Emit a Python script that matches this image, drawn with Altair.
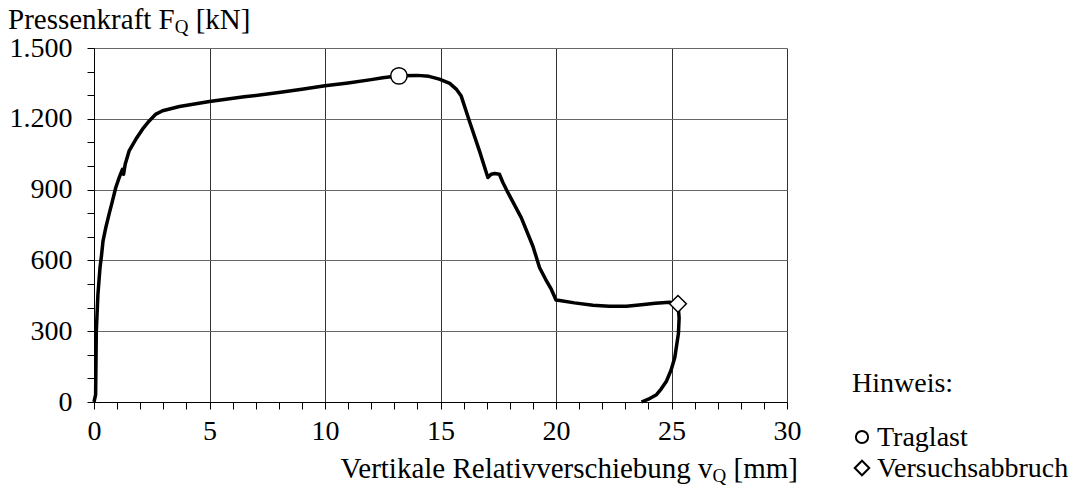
import altair as alt
import pandas as pd

# ---- data ----
x_mm = [0.0, 0.07, 0.10, 0.17, 0.26, 0.33, 0.39, 0.51, 0.65, 0.80, 0.94, 1.09, 1.23, 1.28, 1.35,
        1.52, 1.81, 2.10, 2.39, 2.68, 2.97, 3.70, 5.0, 6.5, 8.0, 9.0, 10.0, 11.0, 12.0, 12.5,
        13.2, 14.0, 14.5, 14.95, 15.4, 15.68, 15.89, 16.25, 16.7, 17.05, 17.19, 17.35, 17.55,
        17.7, 17.92, 18.5, 19.0, 19.29, 19.55, 19.80, 20.0, 20.16, 20.8, 21.6, 22.3, 23.05,
        23.7, 24.3, 24.92, 25.28, 25.33, 25.30, 25.14, 24.98, 24.78, 24.55, 24.35, 24.0, 23.7]
f_kn = [0, 31, 300, 456, 569, 625, 682, 739, 795, 852, 908, 951, 986, 965, 1007,
        1064, 1113, 1156, 1191, 1220, 1234, 1252, 1273, 1293, 1311, 1325, 1340, 1352, 1366, 1374,
        1382, 1384, 1380, 1368, 1350, 1326, 1298, 1191, 1060, 951, 965, 968, 965,
        930, 887, 780, 660, 569, 520, 477, 432, 430, 420, 410, 406, 406,
        412, 418, 423, 416, 357, 290, 187, 135, 88, 55, 31, 12, 0]

marker_x = [13.2, 25.28]
marker_y = [1382, 416]
marker_shape = ["circle", "diamond"]
legend_title = "Hinweis:"
legend_labels = ["Traglast", "Versuchsabbruch"]

FONT = "Liberation Serif"

curve = pd.DataFrame({"x": x_mm, "y": f_kn, "i": list(range(len(x_mm)))})

x_scale = alt.Scale(domain=[0, 30], nice=False, zero=False)
y_scale = alt.Scale(domain=[0, 1500], nice=False)

x_axis = alt.Axis(
    values=list(range(0, 31)),
    labelExpr="datum.value % 5 == 0 ? datum.label : ''",
    gridOpacity=alt.condition("datum.value % 5 == 0", alt.value(1), alt.value(0)),
    title=None, tickSize=7, labelPadding=8, labelFontSize=28, labelFont=FONT,
    labelColor="black", domainColor="black", tickColor="black", gridColor="#333333",
    labelFlush=False, labelOverlap=False, tickCount=31,
)
y_axis = alt.Axis(
    values=list(range(0, 1501, 100)),
    labelExpr="datum.value % 300 == 0 ? replace(format(datum.value, ','), ',', '.') : ''",
    gridOpacity=alt.condition("datum.value % 300 == 0", alt.value(1), alt.value(0)),
    title=None, tickSize=7, labelPadding=15, labelFontSize=28, labelFont=FONT,
    labelColor="black", domainColor="black", tickColor="black", gridColor="#666666",
    labelFlush=False, labelOverlap=False, tickCount=16,
)

line = alt.Chart(curve).mark_line(color="black", strokeWidth=3.5, strokeJoin="round").encode(
    x=alt.X("x:Q", scale=x_scale, axis=x_axis),
    y=alt.Y("y:Q", scale=y_scale, axis=y_axis),
    order="i:Q",
)


def marker(i, size):
    df = pd.DataFrame({"x": [marker_x[i]], "y": [marker_y[i]]})
    return alt.Chart(df).mark_point(
        shape=marker_shape[i], filled=True, fill="white", stroke="black",
        strokeWidth=1.5, size=size, opacity=1
    ).encode(
        x=alt.X("x:Q", scale=x_scale, axis=x_axis),
        y=alt.Y("y:Q", scale=y_scale, axis=y_axis),
    )


m1 = marker(0, 270)
m2 = marker(1, 280)


def txt(s, x, y, size, align="left"):
    return alt.Chart(pd.DataFrame({"t": [s]})).mark_text(
        font=FONT, fontSize=size, align=align, baseline="alphabetic", color="black"
    ).encode(text="t:N", x=alt.value(x), y=alt.value(y))


def sym(shape, x, y, size):
    return alt.Chart(pd.DataFrame({"s": [shape]})).mark_point(
        shape=shape, filled=True, fill="white", stroke="black", strokeWidth=2,
        size=size, opacity=1
    ).encode(x=alt.value(x), y=alt.value(y))


S = 29
s_sub = 19
# y title with subscript
yt_x0 = -86
w_main = 5.749 * S
yt1 = txt("Pressenkraft F", yt_x0, -19, S)
yt2 = txt("Q", yt_x0 + w_main, -15, s_sub)
yt3 = txt("[kN]", yt_x0 + w_main + 0.722 * s_sub + 0.25 * S, -19, S)

# x title (right aligned end)
xt_end = 704
xt_base = 430
w_mm = 2.222 * S
q_start = xt_end - w_mm - 0.25 * S - 0.722 * s_sub
xt3 = txt("[mm]", xt_end, xt_base, S, align="right")
xt2 = txt("Q", q_start, xt_base + 4, s_sub)
xt1 = txt("Vertikale Relativverschiebung v", q_start, xt_base, S, align="right")

# note / legend
L = 28
lg0 = txt(legend_title, 758, 344, L)
lg1 = txt(legend_labels[0], 783, 398, L)
lg2 = txt(legend_labels[1], 783, 429, L)
ls1 = sym(marker_shape[0], 768, 389, 150)
ls2 = sym(marker_shape[1], 768, 420, 210)

chart = alt.layer(line, m1, m2, yt1, yt2, yt3, xt1, xt2, xt3,
                  lg0, lg1, lg2, ls1, ls2).properties(
    width=693, height=354,
    autosize=alt.AutoSizeParams(type="none"),
    padding={"left": 86, "top": 40, "right": 287, "bottom": 89},
).configure_view(strokeWidth=0)

chart.save("out.html", embed_options={"renderer": "svg", "actions": False})
